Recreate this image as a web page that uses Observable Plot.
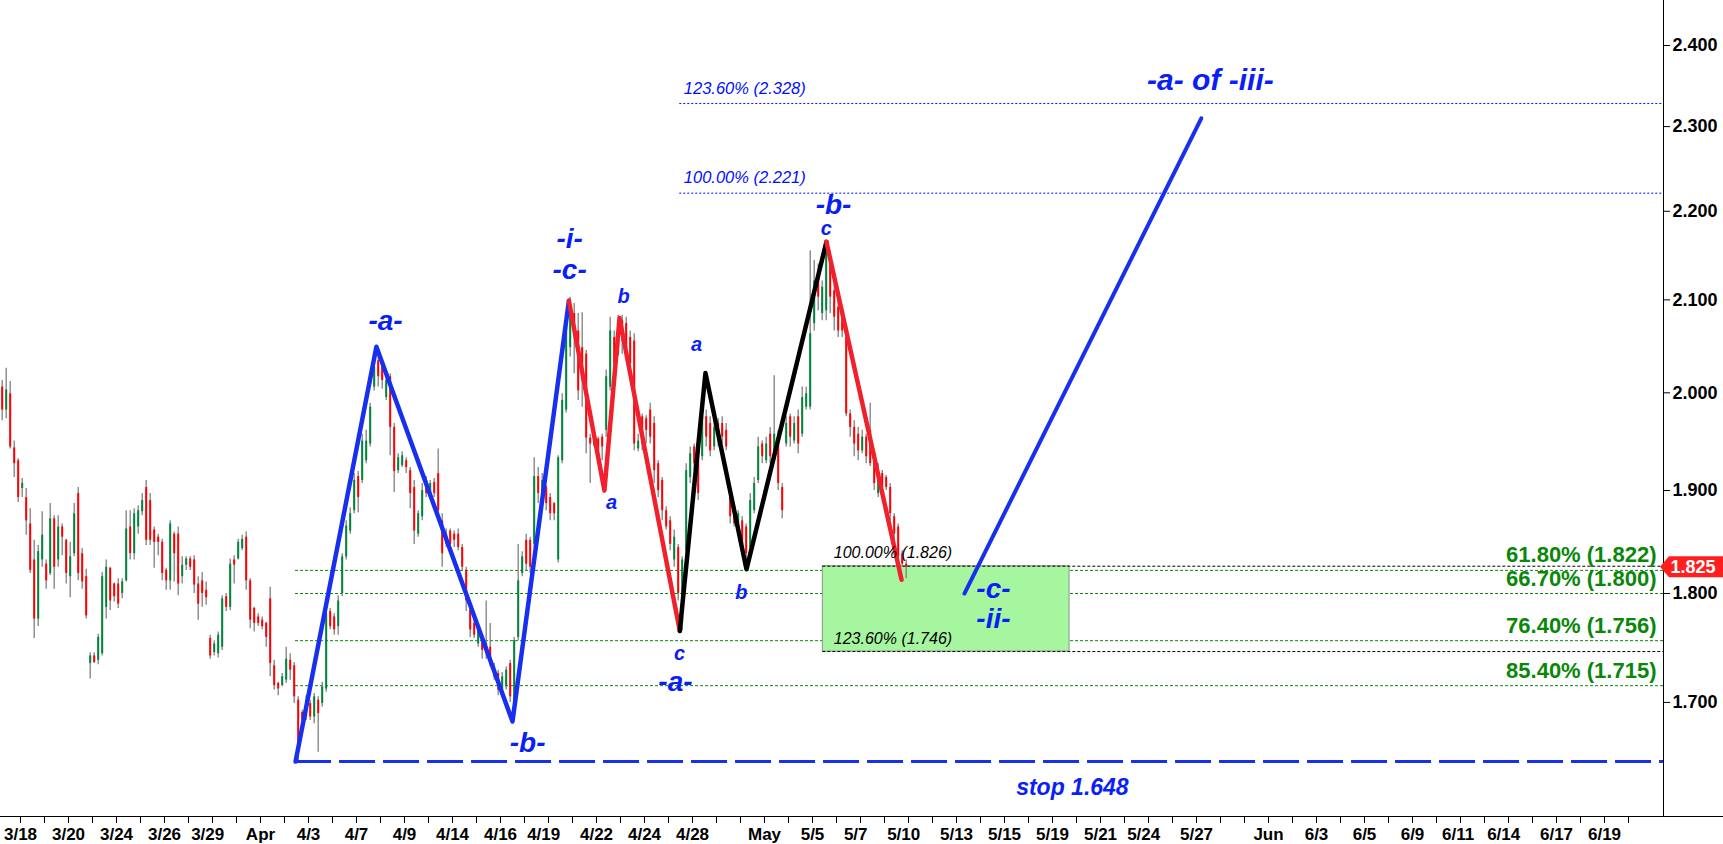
<!DOCTYPE html>
<html><head><meta charset="utf-8">
<script src="https://cdn.jsdelivr.net/npm/d3@7"></script>
<script src="https://cdn.jsdelivr.net/npm/@observablehq/plot@0.6"></script>
<style>
html,body{margin:0;padding:0;background:#fff;}
#chart svg{display:block;}
</style></head><body><div id="chart"></div>
<script>
const FONT = "'Liberation Sans', Arial, Helvetica, sans-serif";

// ---- price bars (4-hour bars, trading-day time units) ----
const firstBarDay = -0.7625, barsPerDay = 6;
const barOpen = [2.006,1.982,1.999,1.943,1.930,1.902,1.893,1.867,1.832,1.776,1.832,1.828,1.819,1.872,1.832,1.864,1.851,1.816,1.838,1.897,1.838,1.816,1.735,1.742,1.738,1.744,1.787,1.824,1.809,1.809,1.800,1.812,1.864,1.838,1.864,1.879,1.903,1.890,1.861,1.854,1.849,1.822,1.812,1.857,1.857,1.816,1.827,1.833,1.832,1.809,1.812,1.803,1.758,1.745,1.744,1.750,1.797,1.787,1.832,1.833,1.843,1.854,1.812,1.786,1.778,1.775,1.772,1.795,1.733,1.717,1.715,1.720,1.738,1.733,1.702,
1.691,1.687,1.699,1.687,1.702,1.699,1.712,1.783,1.778,1.769,1.800,1.835,1.860,1.880,1.914,1.910,1.930,1.947,2.006,2.034,2.027,1.995,2.017,1.964,1.920,1.925,1.930,1.920,1.903,1.857,1.874,1.910,1.898,1.908,1.917,1.870,1.847,1.860,1.857,1.857,1.844,1.822,1.784,1.772,1.753,1.759,1.753,1.750,1.732,1.726,1.711,1.714,1.735,1.702,1.759,1.819,1.851,1.851,1.847,1.914,1.887,1.903,1.893,1.887,1.832,1.930,1.982,2.048,2.085,2.066,2.048,2.041,1.953,1.945,1.952,1.954,
1.961,2.006,2.059,2.041,2.077,2.074,2.059,2.055,1.942,1.975,1.973,1.982,1.968,1.927,1.910,1.880,1.870,1.832,1.844,1.772,1.841,1.913,1.944,1.940,1.934,1.975,1.968,1.944,1.968,1.968,1.961,1.897,1.884,1.864,1.870,1.864,1.844,1.880,1.910,1.947,1.930,1.957,1.930,1.954,1.903,1.947,1.975,1.950,1.975,1.957,1.985,1.985,2.074,2.125,2.085,2.088,2.147,2.110,2.092,2.081,2.059,1.978,1.964,1.957,1.940,1.954,1.961,1.930,1.897,1.917,1.913,1.903,1.874,1.864,1.838,1.828];
const barHigh = [2.013,2.026,2.012,1.950,1.932,1.912,1.902,1.882,1.851,1.846,1.879,1.832,1.887,1.875,1.875,1.867,1.852,1.849,1.887,1.903,1.843,1.823,1.745,1.745,1.762,1.820,1.832,1.825,1.810,1.814,1.814,1.880,1.880,1.882,1.885,1.897,1.910,1.897,1.864,1.857,1.852,1.824,1.870,1.859,1.864,1.835,1.835,1.835,1.836,1.816,1.820,1.811,1.761,1.756,1.764,1.798,1.800,1.833,1.836,1.852,1.856,1.859,1.814,1.787,1.781,1.778,1.773,1.806,1.738,1.718,1.726,1.750,1.744,1.736,1.705,
1.693,1.706,1.702,1.708,1.705,1.718,1.784,1.786,1.781,1.798,1.838,1.870,1.883,1.917,1.919,1.957,1.961,1.989,2.038,2.039,2.034,2.018,2.020,1.968,1.937,1.939,1.933,1.923,1.910,1.880,1.907,1.914,1.910,1.912,1.942,1.877,1.862,1.862,1.860,1.862,1.847,1.825,1.787,1.775,1.772,1.762,1.793,1.772,1.735,1.729,1.727,1.732,1.738,1.759,1.847,1.840,1.857,1.854,1.933,1.923,1.917,1.905,1.897,1.888,1.935,1.999,2.077,2.103,2.096,2.085,2.086,2.045,1.957,1.958,1.954,1.957,
2.024,2.081,2.066,2.083,2.083,2.081,2.066,2.063,1.957,1.978,1.976,1.989,1.975,1.930,1.913,1.884,1.874,1.861,1.847,1.835,1.927,1.944,1.947,1.944,1.982,1.982,1.975,1.971,1.973,1.975,1.968,1.900,1.887,1.880,1.874,1.867,1.897,1.913,1.954,1.950,1.954,1.964,2.018,1.961,1.907,1.975,1.978,1.975,1.982,2.006,2.006,2.155,2.144,2.140,2.121,2.166,2.155,2.118,2.103,2.085,2.066,1.982,1.971,1.964,1.961,1.957,1.989,1.934,1.927,1.920,1.915,1.907,1.877,1.867,1.841,1.832];
const barLow = [1.971,1.973,1.942,1.913,1.888,1.893,1.856,1.819,1.758,1.769,1.825,1.804,1.817,1.804,1.825,1.836,1.809,1.796,1.835,1.812,1.804,1.776,1.721,1.735,1.734,1.742,1.776,1.784,1.792,1.786,1.795,1.811,1.832,1.832,1.857,1.875,1.846,1.846,1.824,1.836,1.812,1.803,1.803,1.811,1.798,1.809,1.822,1.822,1.800,1.775,1.787,1.789,1.739,1.742,1.740,1.747,1.783,1.784,1.809,1.832,1.841,1.803,1.767,1.764,1.769,1.766,1.750,1.723,1.711,1.706,1.714,1.717,1.720,1.699,1.648,
1.681,1.684,1.684,1.681,1.656,1.696,1.709,1.766,1.761,1.761,1.797,1.832,1.857,1.877,1.878,1.907,1.927,1.944,2.002,2.006,2.004,1.992,1.935,1.898,1.917,1.923,1.917,1.882,1.847,1.854,1.870,1.893,1.897,1.893,1.877,1.825,1.844,1.844,1.844,1.841,1.822,1.783,1.759,1.758,1.750,1.739,1.739,1.732,1.720,1.706,1.708,1.711,1.700,1.699,1.756,1.816,1.822,1.819,1.844,1.887,1.884,1.880,1.870,1.870,1.829,1.927,1.979,2.038,2.020,1.992,1.985,1.937,1.907,1.944,1.937,1.930,
1.954,2.002,2.020,2.039,2.041,2.038,2.024,1.940,1.939,1.940,1.947,1.947,1.907,1.893,1.870,1.861,1.841,1.825,1.793,1.765,1.835,1.907,1.920,1.890,1.930,1.944,1.934,1.940,1.944,1.947,1.940,1.867,1.864,1.861,1.841,1.832,1.838,1.877,1.907,1.927,1.927,1.927,1.927,1.900,1.872,1.944,1.944,1.947,1.937,1.954,1.982,1.982,2.066,2.088,2.077,2.077,2.085,2.066,2.059,2.059,1.975,1.954,1.934,1.930,1.937,1.927,1.924,1.900,1.893,1.897,1.900,1.870,1.851,1.828,1.825,1.814];
const barClose = [1.982,2.003,1.944,1.927,1.893,1.907,1.870,1.822,1.776,1.840,1.856,1.812,1.872,1.825,1.864,1.854,1.819,1.835,1.877,1.819,1.811,1.779,1.742,1.736,1.759,1.816,1.825,1.793,1.797,1.790,1.811,1.862,1.838,1.877,1.880,1.890,1.851,1.851,1.849,1.849,1.819,1.812,1.867,1.838,1.809,1.827,1.833,1.825,1.808,1.790,1.800,1.796,1.742,1.753,1.761,1.795,1.787,1.828,1.827,1.849,1.852,1.812,1.775,1.772,1.772,1.769,1.759,1.735,1.715,1.712,1.723,1.739,1.729,1.705,1.664,
1.684,1.702,1.687,1.705,1.690,1.714,1.781,1.769,1.766,1.793,1.835,1.865,1.877,1.910,1.893,1.950,1.950,1.985,2.027,2.017,2.013,2.013,1.964,1.919,1.933,1.935,1.923,1.897,1.860,1.877,1.900,1.897,1.907,1.897,1.880,1.838,1.857,1.847,1.851,1.844,1.825,1.793,1.766,1.761,1.766,1.747,1.744,1.735,1.723,1.711,1.723,1.729,1.705,1.756,1.812,1.835,1.828,1.825,1.914,1.897,1.910,1.887,1.877,1.877,1.933,1.992,2.070,2.092,2.063,2.002,2.013,1.953,1.947,1.953,1.940,1.944,
2.017,2.066,2.031,2.077,2.055,2.045,2.031,1.947,1.950,1.947,1.961,1.954,1.920,1.900,1.880,1.864,1.847,1.854,1.800,1.832,1.920,1.937,1.927,1.897,1.975,1.954,1.940,1.964,1.950,1.954,1.944,1.874,1.867,1.877,1.847,1.838,1.890,1.907,1.944,1.934,1.947,1.934,1.957,1.907,1.880,1.968,1.954,1.968,1.947,1.995,1.999,2.063,2.121,2.103,2.114,2.155,2.103,2.081,2.066,2.066,1.978,1.964,1.947,1.940,1.954,1.934,1.927,1.907,1.917,1.903,1.903,1.877,1.857,1.835,1.828,1.825];

// ---- Elliott wave pivots (day, price) ----
const blueWaveDays = [11.46, 14.83, 20.5, 22.85];
const blueWavePrices = [1.648, 2.049, 1.683, 2.099];
const redWaveDays = [22.85, 24.33, 24.96, 27.47];
const redWavePrices = [2.099, 1.900, 2.080, 1.765];
const blackWaveDays = [27.47, 28.54, 30.25, 33.58];
const blackWavePrices = [1.765, 2.021, 1.823, 2.165];
const redDropDays = [33.58, 36.71];
const redDropPrices = [2.165, 1.813];
const projDays = [39.33, 49.2];
const projPrices = [1.800, 2.310];

// ---- Fibonacci levels ----
const blueFibPct = ["123.60%", "100.00%"];
const blueFibVal = [2.328, 2.221];
const blueFibStart = 27.47;
const greenFibPct = ["61.80%", "66.70%", "76.40%", "85.40%"];
const greenFibVal = [1.822, 1.800, 1.756, 1.715];
const greenFibStart = 11.46;
const blackFibPct = ["100.00%", "123.60%"];
const blackFibVal = [1.826, 1.746];
const blackFibStart = 33.43;
const zone = {start: 33.43, end: 43.71, lo: 1.746, hi: 1.826};
const stopLevel = 1.648, stopStart = 11.46;
const lastPrice = barClose[barClose.length - 1];

// ---- wave labels ----
const degreeText = ["-a-", "-b-", "-i-", "-c-", "-a-", "-b-", "-c-", "-ii-"];
const degreeDay = [15.21, 21.13, 22.88, 22.88, 27.29, 33.875, 40.54, 40.54];
const degreePrice = [2.077, 1.664, 2.168, 2.133, 1.718, 2.207, 1.804, 1.776];
const minorText = ["a", "b", "c", "a", "b", "c"];
const minorDay = [24.63, 25.13, 27.46, 28.17, 30.04, 33.58];
const minorPrice = [1.888, 2.104, 1.744, 2.051, 1.801, 2.180];
const targetLabel = {text: "-a- of -iii-", d: 49.58, p: 2.357};
const stopLabel = {text: "stop 1.648", d: 43.83, p: 1.626};

// ---- axes ----
const xTickLabels = ["3/18","3/20","3/24","3/26","3/29","Apr","4/3","4/7","4/9","4/14","4/16","4/19","4/22","4/24","4/28","May","5/5","5/7","5/10","5/13","5/15","5/19","5/21","5/24","5/27","Jun","6/3","6/5","6/9","6/11","6/14","6/17","6/19"];
const xTickPos = [0,2,4,6,7.8,10,12,14,16,18,20,21.8,24,26,28,31,33,34.8,36.8,39,41,43,45,46.8,49,52,54,56,58,59.9,61.8,64,66];
const yTicks = [1.7, 1.8, 1.9, 2.0, 2.1, 2.2, 2.3, 2.4];
const xDomain = [-0.8333, 68.4583];
const yDomain = [1.60117, 2.4574];

// ---- build ----
const bars = barOpen.map((o, i) => ({t: firstBarDay + i / barsPerDay, o, h: barHigh[i], l: barLow[i], c: barClose[i]}));
const seg = (ds, ps) => ds.map((d, i) => ({d, p: ps[i]}));
const fibs = (pcts, vals, start) => pcts.map((pct, i) => ({pct, v: vals[i], x1: start, x2: xDomain[1]}));
const greenFibs = fibs(greenFibPct, greenFibVal, greenFibStart);
const blueFibs = fibs(blueFibPct, blueFibVal, blueFibStart);
const blackFibs = fibs(blackFibPct, blackFibVal, blackFibStart);
const labelMap = new Map(xTickPos.map((p, i) => [p, xTickLabels[i]]));
const degree = degreeText.map((t, i) => ({t, d: degreeDay[i], p: degreePrice[i]}));
const minor = minorText.map((t, i) => ({t, d: minorDay[i], p: minorPrice[i]}));

const BLUE = "#1730f0", BLUE_T = "#0a1ef8", RED = "#f0202c", GREEN = "#0a870a";
const fibLabel = d => `${d.pct} (${d.v.toFixed(3)})`;

const chart = Plot.plot({
  width: 1723, height: 844,
  marginTop: 0, marginBottom: 28, marginLeft: 0, marginRight: 60,
  style: {fontFamily: FONT, background: "#fff", overflow: "visible"},
  x: {domain: xDomain},
  y: {type: "log", domain: yDomain},
  marks: [
    Plot.ruleY(greenFibs, {y: "v", x1: "x1", x2: "x2", stroke: GREEN, strokeWidth: 1, strokeDasharray: "3,2"}),
    Plot.rect([zone], {x1: "start", x2: "end", y1: "lo", y2: "hi", fill: "#a6f6a0", stroke: "#8f8f8f", strokeWidth: 1}),
    Plot.ruleY(blackFibs, {y: "v", x1: "x1", x2: "x2", stroke: "#000", strokeWidth: 1, strokeDasharray: "3,2"}),
    Plot.ruleY(blueFibs, {y: "v", x1: "x1", x2: "x2", stroke: "#0010ff", strokeWidth: 1, strokeDasharray: "2,2"}),
    Plot.ruleX(bars, {x: "t", y1: "l", y2: "h", stroke: "#808080", strokeWidth: 1.3}),
    Plot.ruleX(bars, {x: "t", y1: "o", y2: "c", stroke: d => d.c >= d.o ? "#00843c" : "#ff0000", strokeWidth: 2}),
    Plot.ruleY([{v: stopLevel, x1: stopStart, x2: xDomain[1]}], {y: "v", x1: "x1", x2: "x2", stroke: BLUE, strokeWidth: 3, strokeDasharray: "36,8"}),
    Plot.line(seg(blueWaveDays, blueWavePrices), {x: "d", y: "p", stroke: BLUE, strokeWidth: 4.5, strokeLinejoin: "round", strokeLinecap: "round"}),
    Plot.line(seg(redWaveDays, redWavePrices), {x: "d", y: "p", stroke: RED, strokeWidth: 4.5, strokeLinejoin: "round", strokeLinecap: "round"}),
    Plot.line(seg(blackWaveDays, blackWavePrices), {x: "d", y: "p", stroke: "#000", strokeWidth: 4.5, strokeLinejoin: "round", strokeLinecap: "round"}),
    Plot.line(seg(redDropDays, redDropPrices), {x: "d", y: "p", stroke: RED, strokeWidth: 4.5, strokeLinecap: "round"}),
    Plot.line(seg(projDays, projPrices), {x: "d", y: "p", stroke: BLUE, strokeWidth: 4, strokeLinecap: "round"}),
    // fib texts
    Plot.text(blueFibs, {x: "x1", y: "v", text: fibLabel, textAnchor: "start", dx: 4, dy: -15, fill: "#0010ff", fontSize: 16.5, fontStyle: "italic"}),
    Plot.text(blackFibs, {x: "x1", y: "v", text: fibLabel, textAnchor: "start", dx: 11, dy: -13, fill: "#000", fontSize: 16, fontStyle: "italic"}),
    Plot.text(greenFibs, {x: "x2", y: "v", text: fibLabel, textAnchor: "end", dx: -7, dy: -15, fill: GREEN, fontSize: 22, fontWeight: "bold"}),
    // wave labels
    Plot.text(degree, {x: "d", y: "p", text: "t", fill: BLUE_T, fontSize: 28, fontWeight: "bold", fontStyle: "italic"}),
    Plot.text(minor, {x: "d", y: "p", text: "t", fill: BLUE_T, fontSize: 20, fontWeight: "bold", fontStyle: "italic"}),
    Plot.text([targetLabel], {x: "d", y: "p", text: "text", fill: BLUE_T, fontSize: 30, fontWeight: "bold", fontStyle: "italic"}),
    Plot.text([stopLabel], {x: "d", y: "p", text: "text", fill: BLUE_T, fontSize: 23, fontWeight: "bold", fontStyle: "italic"}),
    // axes
    Plot.axisY({anchor: "right", ticks: yTicks, tickFormat: d3.format(".3f"), tickSize: 6, tickPadding: 3, fontSize: 18, fontWeight: "bold", label: null}),
    Plot.axisX({ticks: d3.range(0, 68), tickFormat: () => "", tickSize: 7, label: null}),
    Plot.axisX({ticks: xTickPos, tickFormat: d => labelMap.get(d), tickSize: 0, tickPadding: 11, fontSize: 17, fontWeight: "bold", label: null}),
    Plot.frame({anchor: "right", stroke: "#000"})
  ]
});

document.getElementById("chart").appendChild(chart);

// bottom axis line across the full width, and last-price tag on the price axis
const svg = d3.select(chart);
const yS = chart.scale("y"), xS = chart.scale("x");
const yb = yS.range[0];
const xr = xS.range[1];
svg.append("line").attr("x1", 0).attr("x2", 1723).attr("y1", yb + 0.5).attr("y2", yb + 0.5).attr("stroke", "#000").attr("stroke-width", 1.2);
const py = yS.apply(lastPrice);
svg.append("polygon")
  .attr("points", `${xr - 3},${py} ${xr + 6},${py - 10.5} 1723,${py - 10.5} 1723,${py + 10.5} ${xr + 6},${py + 10.5}`)
  .attr("fill", "#ff1f1f");
svg.append("text").attr("x", xr + 30).attr("y", py).attr("dy", "0.36em").attr("text-anchor", "middle")
  .attr("fill", "#fff").attr("font-family", FONT).attr("font-weight", "bold").attr("font-size", 18)
  .text(lastPrice.toFixed(3));
</script>
</body></html>
